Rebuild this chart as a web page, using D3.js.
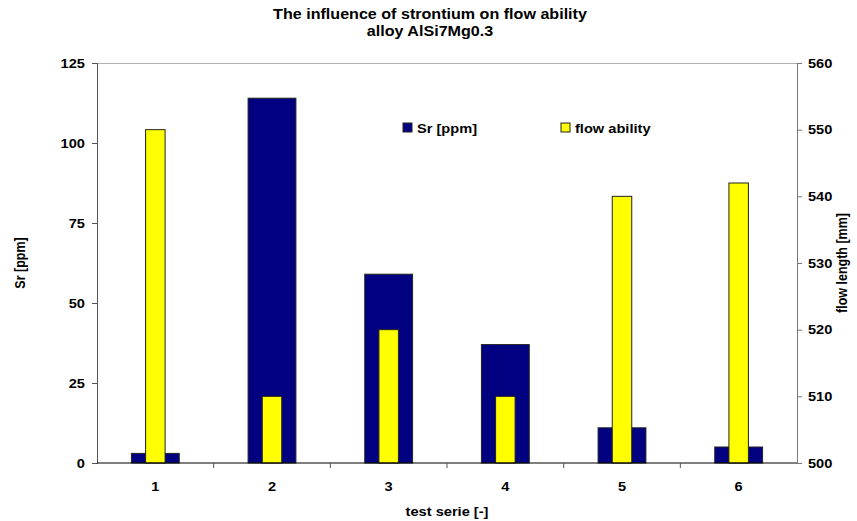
<!DOCTYPE html>
<html>
<head>
<meta charset="utf-8">
<script src="https://cdn.jsdelivr.net/npm/d3@7"></script>
<style>
  body { margin: 0; background: #fff; }
  text { font-family: "Liberation Sans", Arial, sans-serif; font-weight: bold; }
</style>
</head>
<body>
<div id="chart"></div>
<script>
// data
var series = ["1", "2", "3", "4", "5", "6"];
var srPpm = [3, 114, 59, 37, 11, 5];
var flowLength = [550, 510, 520, 510, 540, 542];
var leftTicks = [0, 25, 50, 75, 100, 125];
var rightTicks = [500, 510, 520, 530, 540, 550, 560];

const width = 857, height = 521;
const margin = { top: 63, right: 60, bottom: 58, left: 97 };
const w = 700, h = 400;
const sx = 1.17;   // the original text is a bit wider than it is tall
const fs = "12.5px";

const svg = d3.select("#chart").append("svg")
  .attr("width", width)
  .attr("height", height);

const g = svg.append("g")
  .attr("transform", `translate(${margin.left},${margin.top})`);

const x = d3.scaleBand().domain(series).range([0, w]).padding(0);
const yL = d3.scaleLinear().domain([0, 125]).range([h, 0]);
const yR = d3.scaleLinear().domain([500, 560]).range([h, 0]);

// plot frame top
g.append("line").attr("x1", 0).attr("x2", w).attr("y1", 0.5).attr("y2", 0.5)
  .attr("stroke", "#b0b0b0").attr("stroke-width", 1);

// Sr bars (wide, navy)
const blueW = x.bandwidth() * 0.41;
g.selectAll(".sr")
  .data(srPpm)
  .join("rect")
  .attr("class", "sr")
  .attr("x", (d, i) => x(series[i]) + x.bandwidth() / 2 - blueW / 2)
  .attr("y", d => yL(d))
  .attr("width", blueW)
  .attr("height", d => h - yL(d))
  .attr("fill", "#000080")
  .attr("stroke", "#222")
  .attr("stroke-width", 1);

// flow ability bars (narrow, yellow)
const yelW = 19.5;
g.selectAll(".flow")
  .data(flowLength)
  .join("rect")
  .attr("class", "flow")
  .attr("x", (d, i) => x(series[i]) + x.bandwidth() / 2 - yelW / 2)
  .attr("y", d => yR(d))
  .attr("width", yelW)
  .attr("height", d => h - yR(d))
  .attr("fill", "#ffff00")
  .attr("stroke", "#222")
  .attr("stroke-width", 1);

// left axis
const axL = g.append("g")
  .call(d3.axisLeft(yL).tickValues(leftTicks).tickSize(5).tickPadding(5.3));
axL.selectAll("text").style("font-size", fs).attr("fill", "#000")
  .attr("transform", `scale(${sx},1)`);
axL.select(".domain").attr("stroke", "#555");
axL.selectAll(".tick line").attr("stroke", "#555");

// right axis
const axR = g.append("g")
  .attr("transform", `translate(${w},0)`)
  .call(d3.axisRight(yR).tickValues(rightTicks).tickSize(5).tickPadding(4.4));
axR.selectAll("text").style("font-size", fs).attr("fill", "#000")
  .attr("transform", `scale(${sx},1)`);
axR.select(".domain").attr("stroke", "#777");
axR.selectAll(".tick line").attr("stroke", "#777");

// x axis: labels at centers, ticks at category boundaries
g.append("line").attr("x1", 0).attr("x2", w).attr("y1", h).attr("y2", h)
  .attr("stroke", "#000").attr("stroke-width", 1.2);
g.selectAll(".xtick")
  .data(series.slice(1))
  .join("line")
  .attr("class", "xtick")
  .attr("x1", d => x(d)).attr("x2", d => x(d))
  .attr("y1", h).attr("y2", h + 5)
  .attr("stroke", "#555");
g.selectAll(".xlab")
  .data(series)
  .join("text")
  .attr("class", "xlab")
  .attr("transform", d => `translate(${x(d) + x.bandwidth() / 2},${h + 27.5}) scale(${sx},1)`)
  .attr("text-anchor", "middle")
  .style("font-size", fs)
  .text(d => d);

// titles
svg.append("text").attr("transform", `translate(430,19) scale(1.15,1)`).attr("text-anchor", "middle")
  .style("font-size", "14px").text("The influence of strontium on flow ability");
svg.append("text").attr("transform", `translate(430,36) scale(1.15,1)`).attr("text-anchor", "middle")
  .style("font-size", "14px").text("alloy AlSi7Mg0.3");

svg.append("text")
  .attr("transform", `translate(${margin.left + w / 2},516) scale(${sx},1)`)
  .attr("text-anchor", "middle")
  .style("font-size", fs).text("test serie [-]");

svg.append("text")
  .attr("transform", `translate(25,${margin.top + h / 2}) scale(${sx},1) rotate(-90)`)
  .attr("text-anchor", "middle")
  .style("font-size", fs).text("Sr [ppm]");

svg.append("text")
  .attr("transform", `translate(847,${margin.top + h / 2}) scale(${sx},1) rotate(-90)`)
  .attr("text-anchor", "middle")
  .style("font-size", fs).text("flow length [mm]");

// legend
var legendItems = [
  { label: "Sr [ppm]", color: "#000080", x: 403 },
  { label: "flow ability", color: "#ffff00", x: 561 }
];
const leg = svg.selectAll(".leg").data(legendItems).join("g")
  .attr("class", "leg")
  .attr("transform", d => `translate(${d.x},123)`);
leg.append("rect").attr("width", 9).attr("height", 9)
  .attr("fill", d => d.color).attr("stroke", "#222");
leg.append("text").attr("transform", `translate(14,10) scale(${sx},1)`)
  .style("font-size", fs).text(d => d.label);
</script>
</body>
</html>
